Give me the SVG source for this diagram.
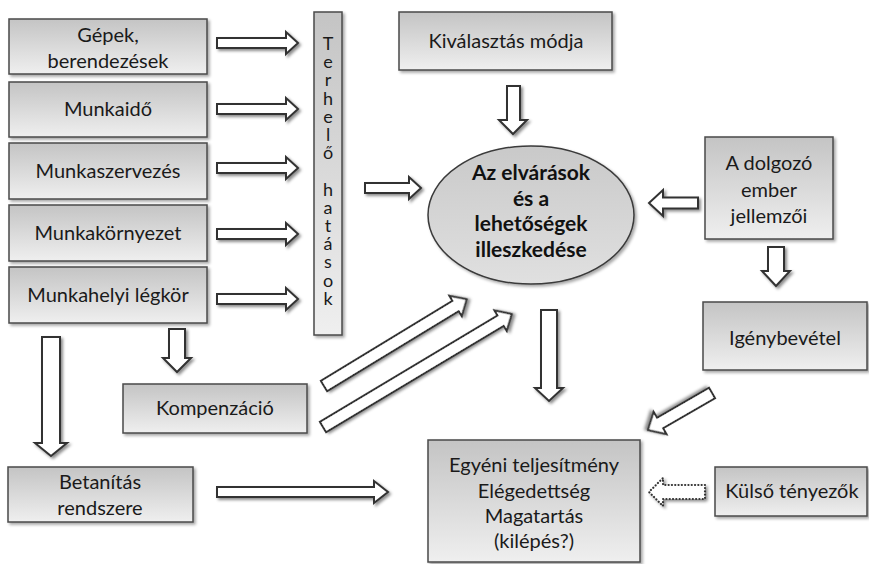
<svg xmlns="http://www.w3.org/2000/svg" width="869" height="564" viewBox="0 0 869 564">
<defs>
<linearGradient id="gBox" x1="0" y1="0" x2="0" y2="1"><stop offset="0" stop-color="#c4c4c4"/><stop offset="1" stop-color="#efefef"/></linearGradient>
<linearGradient id="gEll" x1="0" y1="0" x2="0" y2="1"><stop offset="0" stop-color="#c9c9c9"/><stop offset="1" stop-color="#e0e0e0"/></linearGradient>
<filter id="sh" x="-10%" y="-10%" width="130%" height="130%"><feDropShadow dx="2" dy="2" stdDeviation="1.5" flood-color="#000" flood-opacity="0.35"/></filter>
<filter id="ash" x="-20%" y="-40%" width="150%" height="190%"><feDropShadow dx="2" dy="2" stdDeviation="1.6" flood-color="#000" flood-opacity="0.45"/></filter>
</defs>
<style>
.box{fill:url(#gBox);stroke:#4a4a4a;stroke-width:1.5;filter:url(#sh)}
.ell{fill:url(#gEll);stroke:#3a3a3a;stroke-width:1.5;filter:url(#sh)}
.t{font-family:Lato,"Liberation Sans",sans-serif;font-size:20px;fill:#1a1a1a;text-anchor:middle}
.b{font-family:Lato,"Liberation Sans",sans-serif;font-size:21px;font-weight:bold;fill:#111;text-anchor:middle}
.v{font-family:Lato,"Liberation Sans",sans-serif;font-size:18px;fill:#1a1a1a;writing-mode:vertical-rl;text-orientation:upright;letter-spacing:-3.8px}
.ar{fill:#fff;stroke:#333;stroke-width:2;stroke-linejoin:miter;filter:url(#ash)}
.dot{fill:#fff;stroke:#333;stroke-width:2.2;stroke-dasharray:0.1 3.2;stroke-linecap:round;filter:url(#ash)}
</style>

<g id="n-gepek"><rect class="box" x="9" y="19" width="198" height="55"/><text class="t" x="108" y="42">Gépek,</text><text class="t" x="108" y="68">berendezések</text></g>
<g id="n-munkaido"><rect class="box" x="9" y="82" width="198" height="55"/><text class="t" x="108" y="116">Munkaidő</text></g>
<g id="n-munkaszervezes"><rect class="box" x="9" y="143" width="198" height="56"/><text class="t" x="108" y="178">Munkaszervezés</text></g>
<g id="n-munkakornyezet"><rect class="box" x="9" y="205" width="198" height="56"/><text class="t" x="108" y="240">Munkakörnyezet</text></g>
<g id="n-legkor"><rect class="box" x="9" y="267" width="198" height="56"/><text class="t" x="108" y="302">Munkahelyi légkör</text></g>

<g id="n-terhelo"><rect class="box" x="314" y="12" width="28" height="323"/>
<text class="v" x="328" y="32">Terhelő hatások</text></g>

<g id="n-kivalasztas"><rect class="box" x="399" y="12" width="213" height="58"/><text class="t" x="506" y="48">Kiválasztás módja</text></g>

<g id="n-illeszkedes"><ellipse class="ell" cx="531" cy="215" rx="103" ry="69"/>
<text class="b" x="531" y="180">Az elvárások</text><text class="b" x="531" y="206">és a</text><text class="b" x="531" y="231">lehetőségek</text><text class="b" x="531" y="257">illeszkedése</text></g>

<g id="n-dolgozo"><rect class="box" x="705" y="137" width="128" height="102"/><text class="t" x="769" y="170">A dolgozó</text><text class="t" x="769" y="197">ember</text><text class="t" x="769" y="223">jellemzői</text></g>

<g id="n-igenybevetel"><rect class="box" x="703" y="302" width="164" height="68"/><text class="t" x="785" y="345">Igénybevétel</text></g>

<g id="n-kompenzacio"><rect class="box" x="123" y="384" width="184" height="49"/><text class="t" x="215" y="415">Kompenzáció</text></g>

<g id="n-betanitas"><rect class="box" x="8" y="467" width="185" height="55"/><text class="t" x="100" y="489">Betanítás</text><text class="t" x="100" y="515">rendszere</text></g>

<g id="n-egyeni"><rect class="box" x="428" y="440" width="212" height="122"/><text class="t" x="534" y="472">Egyéni teljesítmény</text><text class="t" x="534" y="498">Elégedettség</text><text class="t" x="534" y="523">Magatartás</text><text class="t" x="534" y="548">(kilépés?)</text></g>

<g id="n-kulso"><rect class="box" x="715" y="467" width="152" height="49"/><text class="t" x="792" y="498">Külső tényezők</text></g>

<g id="connectors">
<path class="ar" d="M217,38 H286 V32 L298,43 L286,54 V48 H217 Z"/>
<path class="ar" d="M217,104 H286 V98 L298,109 L286,120 V114 H217 Z"/>
<path class="ar" d="M217,163 H286 V157 L298,168 L286,179 V173 H217 Z"/>
<path class="ar" d="M217,229 H286 V223 L298,234 L286,245 V239 H217 Z"/>
<path class="ar" d="M217,294 H286 V288 L298,299 L286,310 V304 H217 Z"/>
<path class="ar" d="M365,183 H409 V177 L421,188 L409,199 V193 H365 Z"/>
<path class="ar" d="M507,86 V120 H499 L513,134 L527,120 H520 V86 Z"/>
<path class="ar" d="M698,197.5 H663 V190 L649,203 L663,216 V208.5 H698 Z"/>
<path class="ar" d="M768,247 V271 H762 L776,286 L790,271 H784 V247 Z"/>
<path class="ar" d="M42,337 V443 H35 L51,456 L67,443 H60 V337 Z"/>
<path class="ar" d="M169,329 V358 H163 L177,372 L191,358 H185 V329 Z"/>
<path class="ar" d="M541,310 V388 H535 L549,401 L563,388 H557 V310 Z"/>
<path class="ar" d="M217,487 H374 V481 L388,492 L374,503 V497 H217 Z"/>
<path class="ar" transform="translate(324,386) rotate(-31.3)" d="M0,-6 H154 V-12 L167,0 L154,12 V6 H0 Z"/>
<path class="ar" transform="translate(323,427) rotate(-30.9)" d="M0,-6 H207 V-12 L220,0 L207,12 V6 H0 Z"/>
<path class="ar" transform="translate(712,393) rotate(150)" d="M0,-6 H60 V-13 L74,0 L60,13 V6 H0 Z"/>
<path class="dot" d="M705,485 H663 V478 L649,492 L663,506 V499 H705 Z"/>
</g>
</svg>
